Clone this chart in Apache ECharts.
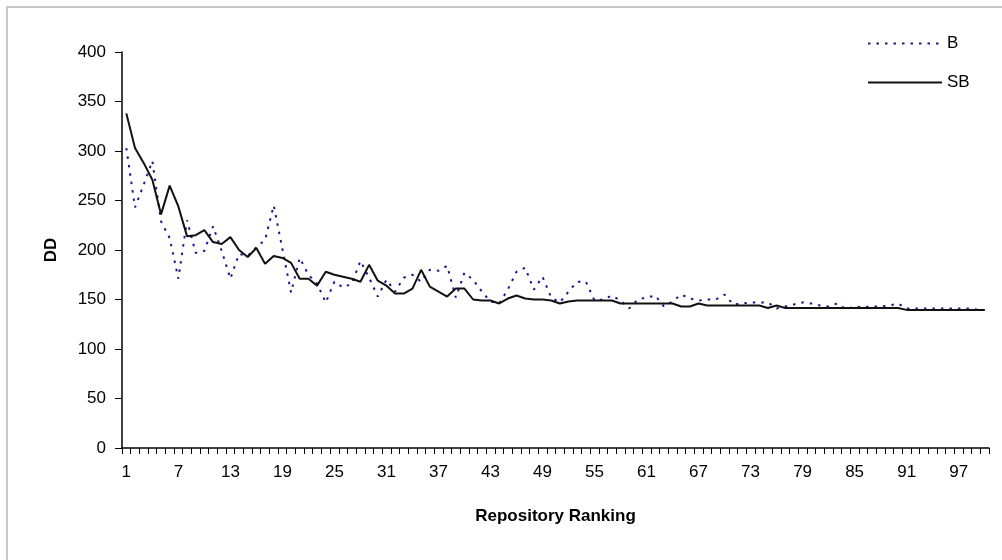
<!DOCTYPE html>
<html>
<head>
<meta charset="utf-8">
<title>DD by Repository Ranking</title>
<script src="https://cdn.jsdelivr.net/npm/echarts@6/dist/echarts.min.js"></script>
<style>
  html, body { margin: 0; padding: 0; background: #fff; }
  #chart { width: 1002px; height: 560px; }
</style>
</head>
<body>
<div id="chart"></div>
<script>
// Repository ranks 1..100 on the category axis
const ranks = Array.from({ length: 100 }, (_, i) => String(i + 1));

// DD per repository rank, series B
const bValues = [
  303, 243, 266, 290, 229, 212, 171, 230, 197, 199,
  224, 199, 171, 196, 194, 203, 210, 245, 201, 157,
  192, 175, 166, 147, 168, 162, 166, 189, 172, 153,
  170, 158, 172, 175, 168, 180, 179, 184, 152, 177,
  170, 158, 148, 146, 160, 178, 182, 160, 173, 152,
  147, 158, 168, 168, 149, 150, 154, 149, 141, 150,
  152, 154, 143, 148, 155, 151, 149, 150, 150, 155,
  145, 146, 147, 147, 147, 141, 143, 145, 147, 146,
  144, 143, 146, 140, 143, 142, 143, 143, 144, 146,
  141, 141, 141, 141, 141, 141, 141, 141, 140, 139.5
];

// DD per repository rank, series SB
const sbValues = [
  338, 303, 288, 271, 236, 265, 244, 214, 215, 220,
  208, 206, 213, 200, 193, 202, 186, 194, 192, 187,
  171, 171, 164, 178, 175, 173, 171, 168, 185, 169,
  164, 156, 156, 161, 180, 163, 158, 153, 161, 161,
  150, 149, 149, 146, 151, 154, 151, 150, 150, 149,
  146, 148, 149, 149, 149, 149, 149, 146, 146, 146,
  146, 146, 146, 146, 143, 143, 146, 144, 144, 144,
  144, 144, 144, 144, 141.5, 144, 141.5, 141.5, 141.5, 141.5,
  141.5, 141.5, 141.5, 141.5, 141.5, 141.5, 141.5, 141.5, 141.5, 141.5,
  139.5, 139.5, 139.5, 139.5, 139.5, 139.5, 139.5, 139.5, 139.5, 139.5
];

const FONT = "'Liberation Sans', Arial, sans-serif";

const chart = echarts.init(document.getElementById('chart'), null, { renderer: 'canvas' });

chart.setOption({
  animation: false,
  backgroundColor: '#ffffff',
  textStyle: { fontFamily: FONT, color: '#000' },
  graphic: [{
    type: 'rect',
    silent: true,
    shape: { x: 7, y: 7, width: 1200, height: 800 },
    style: { fill: 'none', stroke: '#c8c8c8', lineWidth: 2 }
  }],
  legend: {
    orient: 'vertical',
    left: 867,
    top: 35,
    padding: 0,
    itemWidth: 74,
    itemHeight: 14,
    itemGap: 22,
    itemStyle: { opacity: 0 },
    textStyle: { fontFamily: FONT, fontSize: 17, color: '#000' },
    data: ['B', 'SB']
  },
  grid: {
    left: 122,
    right: 13,
    top: 52,
    bottom: 112,
    containLabel: false,
    outerBoundsMode: 'none'
  },
  xAxis: {
    type: 'category',
    data: ranks,
    boundaryGap: true,
    name: 'Repository Ranking',
    nameLocation: 'middle',
    nameGap: 60,
    nameTextStyle: { fontFamily: FONT, fontSize: 17, fontWeight: 'bold', color: '#000' },
    axisLine: { lineStyle: { color: '#000', width: 1.5 } },
    axisTick: { show: true, interval: 0, length: 6, inside: false, lineStyle: { color: '#000', width: 1 } },
    axisLabel: { interval: 5, margin: 16, fontFamily: FONT, fontSize: 17, color: '#000' },
    splitLine: { show: false }
  },
  yAxis: {
    type: 'value',
    min: 0,
    max: 400,
    interval: 50,
    name: 'DD',
    nameLocation: 'middle',
    nameGap: 62,
    nameRotate: 90,
    nameTextStyle: { fontFamily: FONT, fontSize: 17, fontWeight: 'bold', color: '#000' },
    axisLine: { show: true, lineStyle: { color: '#000', width: 1.5 } },
    axisTick: { show: true, length: 7, inside: false, lineStyle: { color: '#000', width: 1 } },
    axisLabel: { margin: 16, fontFamily: FONT, fontSize: 17, color: '#000' },
    splitLine: { show: false }
  },
  series: [
    {
      name: 'B',
      type: 'line',
      data: bValues,
      symbol: 'none',
      lineStyle: { color: '#1a1a8c', width: 2, type: [2.5, 6] },
      itemStyle: { color: '#1a1a8c' },
      z: 2
    },
    {
      name: 'SB',
      type: 'line',
      data: sbValues,
      symbol: 'none',
      lineStyle: { color: '#111', width: 2, type: 'solid' },
      itemStyle: { color: '#111' },
      z: 3
    }
  ]
});
</script>
</body>
</html>
